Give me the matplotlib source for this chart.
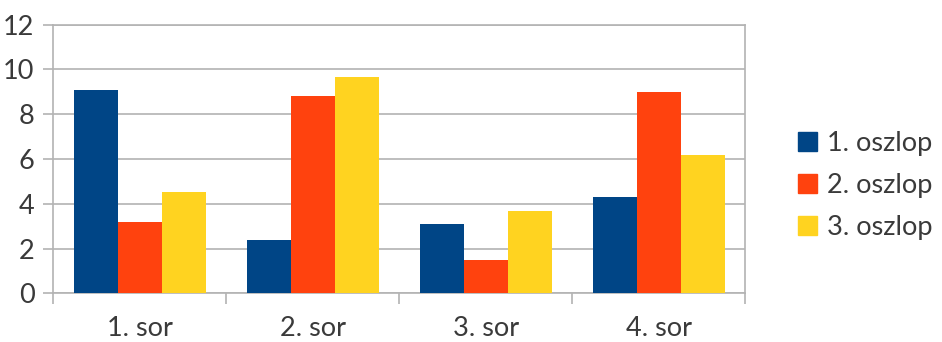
import numpy as np
import matplotlib
matplotlib.use("Agg")
import matplotlib.pyplot as plt
from matplotlib.patches import Patch

# Adatok
sorok = ["1. sor", "2. sor", "3. sor", "4. sor"]
oszlop1 = [9.1, 2.4, 3.1, 4.3]
oszlop2 = [3.2, 8.8, 1.5, 9.0]
oszlop3 = [4.54, 9.65, 3.68, 6.18]
nevek = ["1. oszlop", "2. oszlop", "3. oszlop"]
y_ticks = [0, 2, 4, 6, 8, 10, 12]

SZINEK = ["#004586", "#ff420e", "#ffd320"]
RACS = "#b3b3b3"
SZOVEG = "#3a3a3a"
MERET = 19.5

plt.rcParams["font.family"] = ["Lato", "DejaVu Sans"]

fig = plt.figure(figsize=(9.42, 3.42), dpi=100)
ax = fig.add_axes([0.0566, 0.1424, 0.7346, 0.7854])

x = np.arange(len(sorok))
w = 0.254
for i, (ertekek, szin) in enumerate(zip([oszlop1, oszlop2, oszlop3], SZINEK)):
    ax.bar(x + (i - 1) * w, ertekek, width=w, color=szin, zorder=3)

ax.set_xlim(-0.5, len(sorok) - 0.5)
ax.set_ylim(0, 12)
ax.set_yticks(y_ticks)
ax.yaxis.grid(True, color=RACS, linewidth=1.2, zorder=0)

# kategóriahatárok a fő jelölőkön, feliratok középen
ax.set_xticks(np.arange(-0.5, len(sorok)), [""] * (len(sorok) + 1))
ax.set_xticks(x, sorok, minor=True)
ax.tick_params(axis="x", which="major", length=8, width=1.2, color=RACS, direction="out")
ax.tick_params(axis="x", which="minor", length=0, pad=16, labelsize=MERET, labelcolor=SZOVEG)
ax.tick_params(axis="y", length=7.5, width=1.2, color=RACS, pad=6, labelsize=MERET, labelcolor=SZOVEG)

for s in ax.spines.values():
    s.set_color(RACS)
    s.set_linewidth(1.2)

kezelok = [Patch(facecolor=c, edgecolor=c) for c in SZINEK]
fig.legend(kezelok, nevek, loc="center left", bbox_to_anchor=(0.836, 0.458),
           frameon=False, fontsize=MERET, labelcolor=SZOVEG,
           handlelength=0.7, handleheight=0.7, handletextpad=0.35,
           labelspacing=0.62, borderaxespad=0)

fig.savefig("out.png", dpi=100)
